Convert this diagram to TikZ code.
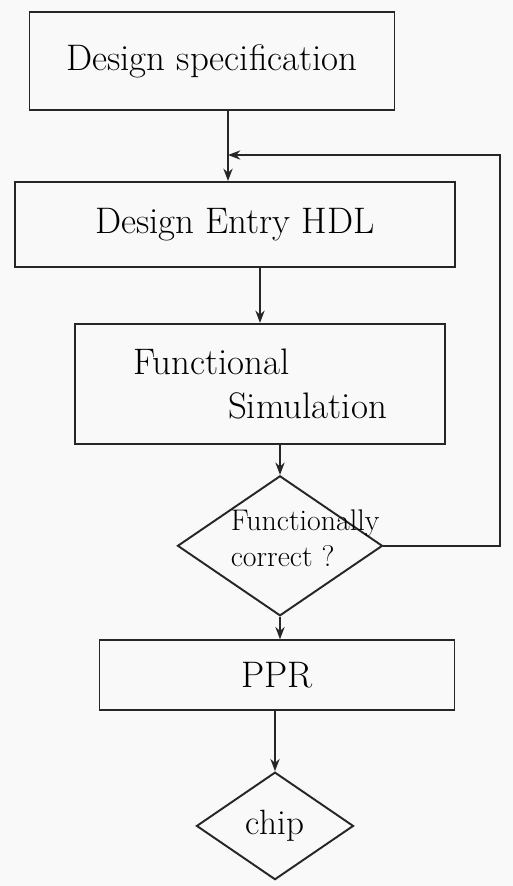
\documentclass[tikz,border=0pt]{standalone}
\usetikzlibrary{arrows.meta, positioning, shapes.geometric}

\begin{document}
\begin{tikzpicture}[
  stage/.style={draw=black!85, line width=1.1pt, minimum height=1.7cm, font=\fontsize{21}{25}\selectfont},
  check/.style={draw=black!85, diamond, line width=1.1pt, inner sep=0pt},
  flow/.style={-{Stealth[length=7pt]}, draw=black!85, line width=1.1pt},
  node distance=1.1cm,
]
\fill[gray!5] (0,0) rectangle (10.26,-17.72);
\useasboundingbox (0,0) rectangle (10.26,-17.72);
\node[stage, minimum width=7.3cm, minimum height=1.96cm] (spec) at (4.24,-1.22) {Design specification};
\node[stage, minimum width=8.8cm, below=1.4cm of spec, xshift=0.46cm] (entry) {Design Entry HDL};
\node[stage, minimum width=7.4cm, minimum height=2.4cm, align=left, below=of entry, xshift=0.5cm] (sim) {Functional\\\hspace*{1.9cm}Simulation};
\node[check, minimum width=4.1cm, minimum height=2.8cm, below=0.6cm of sim, xshift=0.4cm,
  label={[font=\fontsize{17}{20}\selectfont, align=left, xshift=0.5cm, yshift=0.15cm]center:Functionally\\correct ?}] (ok) {};
\node[stage, minimum width=7.1cm, minimum height=1.4cm, below=0.45cm of ok, xshift=-0.06cm] (ppr) {PPR};
\node[check, minimum width=3.14cm, minimum height=2.15cm, below=1.2cm of ppr, xshift=-0.04cm,
  label={[font=\fontsize{20}{24}\selectfont]center:chip}] (chip) {};
\coordinate (turn) at (10.0,-3.1);
\coordinate (join) at ([xshift=0.32cm]spec.south |- turn);
\draw[flow] ([xshift=0.32cm]spec.south) -- ([xshift=0.32cm]spec.south |- entry.north);
\draw[flow] (sim.north |- entry.south) -- (sim.north);
\draw[flow] (ok.north |- sim.south) -- (ok.north);
\draw[flow] (ok.south) -- (ok.south |- ppr.north);
\draw[flow] (chip.north |- ppr.south) -- (chip.north);
\draw[flow] (ok.east) -| (turn) -- (join);
\end{tikzpicture}
\end{document}
